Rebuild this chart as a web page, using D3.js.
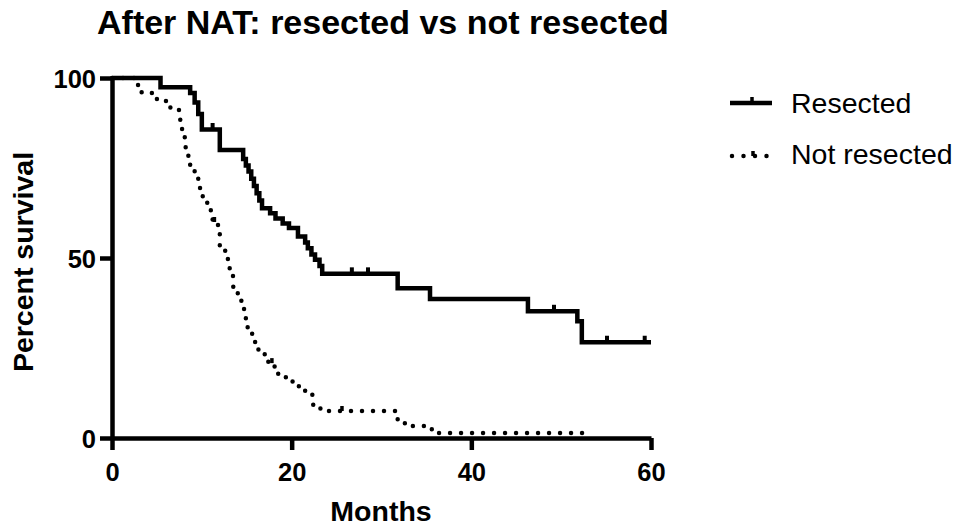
<!DOCTYPE html>
<html>
<head>
<meta charset="utf-8">
<script src="https://cdn.jsdelivr.net/npm/d3@7"></script>
<style>
   body { margin: 0; background: #fff; }
   svg { display: block; font-family: "Liberation Sans", Arial, sans-serif; }
</style>
</head>
<body>
<svg width="957" height="526"></svg>
<script>
// Kaplan-Meier steps: month of each drop, survival after it
var resectedMonths = [0, 5.4, 8.7, 9.2, 9.6, 10.0, 12.0, 14.6, 14.9, 15.2, 15.5, 15.8, 16.1, 16.4, 16.7, 17.6, 18.2, 19.0, 19.7, 20.7, 21.5, 21.8, 22.2, 22.6, 23.1, 23.4, 31.8, 35.4, 46.3, 51.8, 52.3];
var resectedSurvival = [100, 97.4, 95.8, 93.2, 90, 85.7, 80, 77.5, 75.7, 74, 72, 70, 68, 66, 63.8, 62.4, 61, 59.6, 58.3, 56, 54.3, 52.7, 51, 49.5, 47.8, 45.6, 41.6, 38.6, 35.2, 32.4, 26.6];
var resectedEnd = 60;
var resectedCensored = [11.2, 26.7, 28.5, 49.2, 55.1, 59.3];

var notResectedMonths = [0, 2.9, 3.3, 5.0, 6.5, 7.6, 7.8, 8.1, 8.2, 8.5, 8.7, 9.2, 9.6, 9.8, 10.1, 10.6, 11.0, 11.2, 11.8, 12.0, 12.6, 12.9, 13.1, 13.5, 14.0, 14.4, 14.7, 14.9, 15.1, 15.6, 15.9, 16.3, 17.0, 17.4, 18.1, 18.5, 20.1, 20.8, 21.5, 22.3, 22.4, 23.2, 31.8, 32.6, 35.6];
var notResectedSurvival = [100, 97.8, 95.8, 93.6, 91.1, 87.8, 85.6, 83.3, 80, 76.7, 75.3, 73.9, 71.7, 69.4, 66.9, 65.3, 62.5, 60, 57.2, 53.5, 51.7, 48.9, 45, 41.4, 39.7, 37.5, 35.3, 32.5, 30.3, 28.1, 26.7, 23.9, 22.8, 20.8, 19.4, 16.9, 15.3, 14.4, 12.5, 11.1, 8.6, 7.5, 4.7, 3.3, 1.4];
var notResectedEnd = 53.2;
var notResectedCensored = [11.4, 17.8, 25.6];

var xTicks = [0, 20, 40, 60];
var yTicks = [0, 50, 100];
var seriesNames = ['Resected', 'Not resected'];

(function () {
   var svg = d3.select('svg');

   var x = d3.scaleLinear().domain([0, 60]).range([112, 651]);
   var y = d3.scaleLinear().domain([0, 100]).range([438, 78]);

   var toPoints = function (months, survival, end) {
      var pts = months.map(function (m, i) {
         return [m, survival[i]];
      });
      pts.push([end, survival[survival.length - 1]]);
      return pts;
   };

   // survival at a given month, for placing censor ticks
   var survivalAt = function (months, survival, m) {
      var v = survival[0];
      for (var i = 0; i < months.length; i++)
         if (months[i] <= m) v = survival[i];
      return v;
   };

   var line = d3.line()
      .x(function (d) { return x(d[0]); })
      .y(function (d) { return y(d[1]); })
      .curve(d3.curveStepAfter);

   // title
   svg.append('text')
      .attr('x', 97)
      .attr('y', 34)
      .style('font-size', '34px')
      .style('font-weight', 'bold')
      .text('After NAT: resected vs not resected');

   // curves
   svg.append('path')
      .datum(toPoints(notResectedMonths, notResectedSurvival, notResectedEnd))
      .attr('d', line)
      .attr('fill', 'none')
      .attr('stroke', '#000')
      .attr('stroke-width', 4.5)
      .attr('stroke-linecap', 'round')
      .attr('stroke-dasharray', '0 11');

   svg.append('path')
      .datum(toPoints(resectedMonths, resectedSurvival, resectedEnd))
      .attr('d', line)
      .attr('fill', 'none')
      .attr('stroke', '#000')
      .attr('stroke-width', 4.5);

   svg.append('g').selectAll('line')
      .data(resectedCensored)
      .enter().append('line')
      .attr('x1', function (d) { return x(d); })
      .attr('x2', function (d) { return x(d); })
      .attr('y1', function (d) { return y(survivalAt(resectedMonths, resectedSurvival, d)); })
      .attr('y2', function (d) { return y(survivalAt(resectedMonths, resectedSurvival, d)) - 6.5; })
      .attr('stroke', '#000')
      .attr('stroke-width', 4);

   svg.append('g').selectAll('line')
      .data(notResectedCensored)
      .enter().append('line')
      .attr('x1', function (d) { return x(d); })
      .attr('x2', function (d) { return x(d); })
      .attr('y1', function (d) { return y(survivalAt(notResectedMonths, notResectedSurvival, d)); })
      .attr('y2', function (d) { return y(survivalAt(notResectedMonths, notResectedSurvival, d)) - 5; })
      .attr('stroke', '#000')
      .attr('stroke-width', 3.5);

   // axes
   var xAxis = svg.append('g')
      .attr('transform', 'translate(0,' + y(0) + ')')
      .call(d3.axisBottom(x).tickValues(xTicks).tickSize(12).tickSizeOuter(0).tickPadding(13));

   var yAxis = svg.append('g')
      .attr('transform', 'translate(' + x(0) + ',0)')
      .call(d3.axisLeft(y).tickValues(yTicks).tickSize(12).tickSizeOuter(0).tickPadding(4));

   [xAxis, yAxis].forEach(function (ax) {
      ax.selectAll('path, line').attr('stroke', '#000').attr('stroke-width', 4.5);
      ax.selectAll('text')
         .attr('fill', '#000')
         .style('font-family', '"Liberation Sans", Arial, sans-serif')
         .style('font-size', '25.5px')
         .style('font-weight', 'bold');
   });
   yAxis.selectAll('text').attr('dy', '0.36em');

   svg.append('text')
      .attr('x', 381)
      .attr('y', 521)
      .attr('text-anchor', 'middle')
      .style('font-size', '28.5px')
      .style('font-weight', 'bold')
      .text('Months');

   svg.append('text')
      .attr('transform', 'translate(33,262) rotate(-90)')
      .attr('text-anchor', 'middle')
      .style('font-size', '28.5px')
      .style('font-weight', 'bold')
      .text('Percent survival');

   // legend
   var legend = svg.append('g');
   legend.append('line')
      .attr('x1', 730).attr('x2', 772).attr('y1', 103).attr('y2', 103)
      .attr('stroke', '#000').attr('stroke-width', 4.5);
   legend.append('line')
      .attr('x1', 752).attr('x2', 752).attr('y1', 103).attr('y2', 97)
      .attr('stroke', '#000').attr('stroke-width', 3.5);
   legend.append('line')
      .attr('x1', 732).attr('x2', 770).attr('y1', 156).attr('y2', 156)
      .attr('stroke', '#000').attr('stroke-width', 4.5)
      .attr('stroke-linecap', 'round').attr('stroke-dasharray', '0 11.5');
   legend.append('line')
      .attr('x1', 753).attr('x2', 753).attr('y1', 156).attr('y2', 151)
      .attr('stroke', '#000').attr('stroke-width', 3.5);

   legend.selectAll('text')
      .data(seriesNames)
      .enter().append('text')
      .attr('x', 791)
      .attr('y', function (d, i) { return 113 + i * 51; })
      .style('font-size', '28.5px')
      .text(function (d) { return d; });
})();
</script>
</body>
</html>
